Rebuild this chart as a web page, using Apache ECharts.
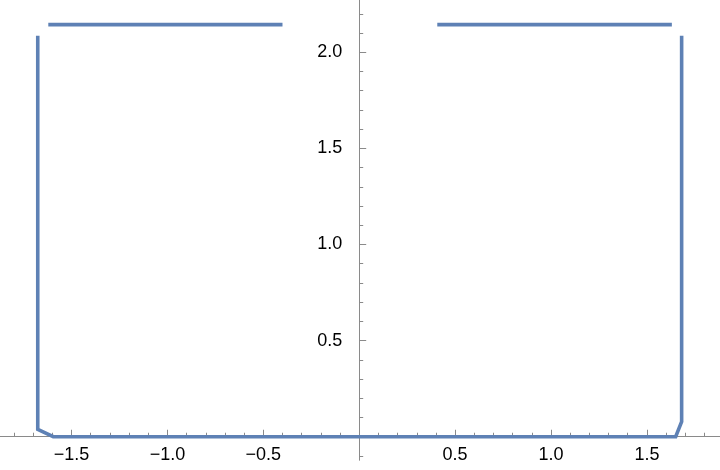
<!DOCTYPE html>
<html>
<head>
<meta charset="utf-8">
<script src="https://cdn.jsdelivr.net/npm/echarts@6/dist/echarts.min.js"></script>
<style>html,body{margin:0;padding:0;background:#fff}#c{width:720px;height:470px}</style>
</head>
<body>
<div id="c"></div>
<script>
// Main curve (bottom + sides)
const curveX = [-1.676, -1.676, -1.595, 1.650, 1.681, 1.681];
const curveY = [2.086, 0.038, 0.0, 0.0, 0.078, 2.086];
// Top-left and top-right horizontal segments
const topLeftX = [-1.621, -0.400];
const topLeftY = [2.144, 2.144];
const topRightX = [0.407, 1.630];
const topRightY = [2.144, 2.144];
// Tick values
const xMajorTicks = [-1.5, -1.0, -0.5, 0.5, 1.0, 1.5];
const xMinorTicks = [-1.8, -1.7, -1.6, -1.4, -1.3, -1.2, -1.1, -0.9, -0.8, -0.7, -0.6, -0.4, -0.3, -0.2, -0.1,
                     0.1, 0.2, 0.3, 0.4, 0.6, 0.7, 0.8, 0.9, 1.1, 1.2, 1.3, 1.4, 1.6, 1.7, 1.8];
const yMajorTicks = [0.5, 1.0, 1.5, 2.0];
const yMinorTicks = [-0.1, 0.1, 0.2, 0.3, 0.4, 0.6, 0.7, 0.8, 0.9, 1.1, 1.2, 1.3, 1.4, 1.6, 1.7, 1.8, 1.9, 2.1, 2.2];

const X_MIN = -1.8728, X_MAX = 1.881, Y_MIN = -0.121, Y_MAX = 2.272;
const W = 720, H = 460;
const AXIS_COLOR = '#8a8a8a';
const LINE_COLOR = '#5E81B5';
const FONT = 'Liberation Sans, Arial, sans-serif';
const fmt = v => (v < 0 ? '\u2212' : '') + Math.abs(v).toFixed(1);
const pairs = (xs, ys) => xs.map((x, i) => [x, ys[i]]);

// pixel position of the zero lines inside the data grid
const zeroX = (0 - X_MIN) / (X_MAX - X_MIN) * W;
const zeroY = (Y_MAX - 0) / (Y_MAX - Y_MIN) * H;

const g = (o) => Object.assign({containLabel: false, outerBoundsMode: 'none'}, o);
const grids = [
  g({left: 0, top: 0, width: W, height: H}),              // data
  g({left: 0, top: 0, width: W, height: zeroY}),          // x axis major
  g({left: 0, top: 0, width: W, height: zeroY}),          // x axis minor
  g({left: zeroX, top: 0, width: W - zeroX, height: H}),  // y axis major
  g({left: zeroX, top: 0, width: W - zeroX, height: H})   // y axis minor
];

const hidden = (type, grid, min, max) => ({type: 'value', gridIndex: grid, min, max, show: false});

function tickAxis(grid, pos, min, max, ticks, len, labelCfg) {
  return {
    type: 'value', gridIndex: grid, position: pos, min, max,
    axisLine: {show: true, onZero: false, lineStyle: {color: AXIS_COLOR, width: 1}},
    axisTick: {show: true, inside: true, length: len, customValues: ticks, lineStyle: {color: AXIS_COLOR, width: 1}},
    axisLabel: labelCfg ? Object.assign({show: true, customValues: ticks, formatter: fmt, color: '#000',
      fontSize: 18, fontFamily: FONT}, labelCfg) : {show: false},
    splitLine: {show: false}, minorTick: {show: false}
  };
}

const lineSeries = (xs, ys) => ({
  type: 'line', xAxisIndex: 0, yAxisIndex: 0, data: pairs(xs, ys),
  showSymbol: false, symbol: 'none', silent: true, animation: false,
  lineStyle: {color: LINE_COLOR, width: 3.6, cap: 'butt', join: 'miter'}, z: 5
});

const chart = echarts.init(document.getElementById('c'), null, {renderer: 'canvas'});
chart.setOption({
  animation: false,
  grid: grids,
  xAxis: [
    hidden('x', 0, X_MIN, X_MAX),
    tickAxis(1, 'bottom', X_MIN, X_MAX, xMajorTicks, 7, {margin: 9}),
    tickAxis(2, 'bottom', X_MIN, X_MAX, xMinorTicks, 4, null),
    hidden('x', 3, 0, 1),
    hidden('x', 4, 0, 1)
  ],
  yAxis: [
    hidden('y', 0, Y_MIN, Y_MAX),
    hidden('y', 1, 0, 1),
    hidden('y', 2, 0, 1),
    tickAxis(3, 'left', Y_MIN, Y_MAX, yMajorTicks, 7, {margin: 17}),
    tickAxis(4, 'left', Y_MIN, Y_MAX, yMinorTicks, 4, null)
  ],
  series: [
    lineSeries(curveX, curveY),
    lineSeries(topLeftX, topLeftY),
    lineSeries(topRightX, topRightY)
  ]
});
</script>
</body>
</html>
